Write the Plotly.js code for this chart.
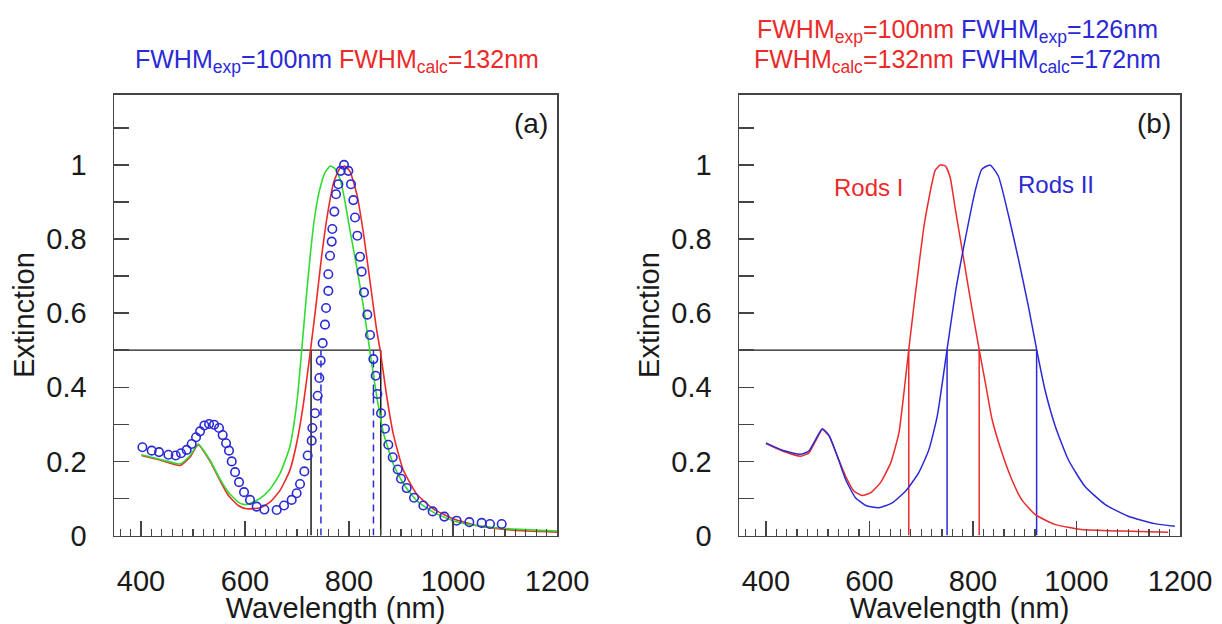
<!DOCTYPE html>
<html>
<head>
<meta charset="utf-8">
<script src="https://cdn.plot.ly/plotly-3.0.1.min.js"></script>
<style>html,body{margin:0;padding:0;background:#fff;}#chart{width:1222px;height:624px;}</style>
</head>
<body>
<div id="chart"></div>
<script>
// ---------- Panel (a) data ----------
const expWlA = [402.6,420.5,434.6,452.6,466.7,476.9,487.8,497.4,505.8,513.5,521.8,530.8,540.4,550.0,557.0,563.5,569.2,574.4,580.8,588.5,598.1,609.6,622.4,637.2,660.9,675.0,689.7,699.3,705.8,714.1,720.5,728.2,729.5,734.6,739.7,742.9,745.5,749.3,753.8,755.8,760.2,760.2,763.4,766.7,767.9,771.8,775.0,779.5,784.0,790.4,798.7,803.8,808.3,811.5,816.0,821.1,824.3,828.8,835.2,840.4,846.8,851.3,854.5,861.5,869.2,875.6,884.0,893.6,900.0,910.9,925.0,942.9,960.9,983.3,1007.0,1031.4,1055.1,1071.1,1093.6];
const expExtA = [0.238,0.229,0.225,0.218,0.216,0.222,0.231,0.247,0.265,0.281,0.297,0.301,0.299,0.290,0.271,0.249,0.229,0.200,0.171,0.144,0.117,0.096,0.078,0.070,0.069,0.081,0.096,0.114,0.139,0.173,0.216,0.256,0.290,0.330,0.377,0.425,0.472,0.519,0.569,0.614,0.660,0.705,0.755,0.793,0.827,0.874,0.921,0.948,0.984,1.000,0.984,0.948,0.905,0.858,0.809,0.752,0.712,0.656,0.596,0.541,0.476,0.431,0.382,0.330,0.288,0.245,0.211,0.178,0.153,0.128,0.102,0.081,0.065,0.051,0.040,0.036,0.034,0.031,0.031];

const calcWlA = [401,436,475,494,510,532,552,568,587,603,629,648,667,686,699,712,725,736,747,759,771,782,792,802,815,828,840,852,861,872,885,904,930,962,1000,1045,1110,1200];
const calcExtA = [0.216,0.204,0.189,0.211,0.245,0.202,0.148,0.108,0.081,0.072,0.075,0.090,0.121,0.175,0.247,0.352,0.490,0.615,0.750,0.870,0.955,0.990,0.997,0.982,0.921,0.813,0.690,0.565,0.490,0.380,0.275,0.178,0.112,0.072,0.045,0.027,0.015,0.009];

const fitWlA = [401,436,475,494,510,532,552,568,587,596,609,629,648,667,686,694,701,709,717,725,733,743,754,764,773,783,792,802,815,828,840,853,866,885,905,930,962,1000,1045,1110,1200];
const fitExtA = [0.218,0.206,0.193,0.215,0.247,0.205,0.152,0.117,0.090,0.084,0.086,0.100,0.125,0.166,0.238,0.300,0.375,0.500,0.630,0.750,0.850,0.930,0.980,0.997,0.990,0.961,0.903,0.822,0.723,0.615,0.499,0.378,0.278,0.193,0.139,0.094,0.063,0.040,0.027,0.018,0.012];

const halfLevel = 0.5;
const fwhmCalcEdgesA = [727, 861];
const fwhmExpEdgesA = [746, 847];

// ---------- Panel (b) data ----------
const rodsIWl = [400,432,467,483,496,509,522,538,554,570,586,602,621,641,657,667,676,686,697,706,715,727,737,747,756,766,779,795,812,824,837,856,875,894,920,958,1010,1087,1177];
const rodsIExt = [0.248,0.228,0.214,0.223,0.255,0.286,0.268,0.214,0.160,0.120,0.108,0.115,0.142,0.196,0.277,0.390,0.502,0.620,0.745,0.840,0.910,0.985,1.000,0.997,0.966,0.880,0.772,0.637,0.502,0.412,0.313,0.223,0.151,0.097,0.057,0.030,0.016,0.012,0.009];

const rodsIIWl = [400,432,467,483,496,509,522,538,554,573,593,618,644,670,695,715,731,750,766,785,805,817,833,849,869,888,907,923,939,959,984,1016,1055,1100,1151,1190];
const rodsIIExt = [0.250,0.230,0.219,0.228,0.259,0.288,0.270,0.214,0.151,0.102,0.081,0.075,0.088,0.120,0.169,0.232,0.322,0.502,0.655,0.799,0.934,0.988,1.000,0.970,0.862,0.745,0.619,0.502,0.394,0.295,0.205,0.133,0.084,0.052,0.032,0.025];

const fwhmEdgesRodsI = [676, 812];
const fwhmEdgesRodsII = [750, 923];

const xTickVals = [400, 600, 800, 1000, 1200];
const yTickVals = [0, 0.2, 0.4, 0.6, 0.8, 1];
const yTickText = ['0', '0.2', '0.4', '0.6', '0.8', '1'];
const xRange = [348, 1200];
const yRange = [0, 1.19];

// ---------- helpers ----------
const RED = '#ec2a2a', GREEN = '#2fdc2f', BLUE = '#2a2ad6', BLACK = '#1a1a1a';
function verticals(edges) {
  const x = [], y = [];
  edges.forEach(e => { x.push(e, e, null); y.push(0, halfLevel, null); });
  return {x, y};
}
function vtrace(edges, color, dash, xa, ya) {
  const v = verticals(edges);
  return {x: v.x, y: v.y, mode: 'lines', line: {color, width: 1.5, dash: dash || 'solid'}, xaxis: xa, yaxis: ya, hoverinfo: 'skip', showlegend: false};
}
function htrace(rightEdge, xa, ya) {
  return {x: [xRange[0], rightEdge], y: [halfLevel, halfLevel], mode: 'lines', line: {color: BLACK, width: 1.3}, xaxis: xa, yaxis: ya, showlegend: false};
}

const traces = [
  htrace(Math.max(...fwhmCalcEdgesA), 'x', 'y'),
  vtrace(fwhmCalcEdgesA, BLACK, 'solid', 'x', 'y'),
  vtrace(fwhmExpEdgesA, BLUE, '7px,5px', 'x', 'y'),
  {x: calcWlA, y: calcExtA, mode: 'lines', line: {color: RED, width: 1.6, shape: 'spline', smoothing: 0.5}, xaxis: 'x', yaxis: 'y', showlegend: false},
  {x: fitWlA, y: fitExtA, mode: 'lines', line: {color: GREEN, width: 1.6, shape: 'spline', smoothing: 0.5}, xaxis: 'x', yaxis: 'y', showlegend: false},
  {x: expWlA, y: expExtA, mode: 'markers', marker: {symbol: 'circle-open', size: 8.5, color: BLUE, line: {width: 1.6, color: BLUE}}, xaxis: 'x', yaxis: 'y', showlegend: false},

  htrace(Math.max(...fwhmEdgesRodsII), 'x2', 'y2'),
  vtrace(fwhmEdgesRodsI, RED, 'solid', 'x2', 'y2'),
  vtrace(fwhmEdgesRodsII, BLUE, 'solid', 'x2', 'y2'),
  {x: rodsIWl, y: rodsIExt, mode: 'lines', line: {color: RED, width: 1.5, shape: 'spline', smoothing: 0.5}, xaxis: 'x2', yaxis: 'y2', showlegend: false},
  {x: rodsIIWl, y: rodsIIExt, mode: 'lines', line: {color: BLUE, width: 1.5, shape: 'spline', smoothing: 0.5}, xaxis: 'x2', yaxis: 'y2', showlegend: false}
];

const FONT = 'Liberation Sans, Arial, sans-serif';
function xAxis(domain, anchor) {
  return {
    domain, anchor, range: xRange, showline: true, mirror: true, linecolor: '#444', linewidth: 1.5,
    ticks: 'inside', ticklen: 15, tickwidth: 1.5, tickcolor: '#444',
    tickmode: 'array', tickvals: xTickVals,
    minor: {tickmode: 'linear', tick0: 0, dtick: 20, ticks: 'inside', ticklen: 7, tickwidth: 1.2, tickcolor: '#444'},
    showgrid: false, zeroline: false, ticklabelstandoff: 19,
    tickfont: {family: FONT, size: 29, color: BLACK},
    title: {text: 'Wavelength (nm)', font: {family: FONT, size: 29, color: BLACK}, standoff: 0}
  };
}
function yAxis(domain, anchor) {
  return {
    domain, anchor, range: yRange, showline: true, mirror: true, linecolor: '#444', linewidth: 1.5,
    ticks: 'inside', ticklen: 15, tickwidth: 1.5, tickcolor: '#444',
    tickmode: 'array', tickvals: yTickVals, ticktext: yTickText,
    minor: {tickmode: 'linear', tick0: 0, dtick: 0.1, ticks: 'inside', ticklen: 15, tickwidth: 1.5, tickcolor: '#444'},
    showgrid: false, zeroline: false, ticklabelstandoff: 20,
    tickfont: {family: FONT, size: 29, color: BLACK},
    title: {text: 'Extinction', font: {family: FONT, size: 29, color: BLACK}, standoff: 3}
  };
}
const yDom = [1 - 535.5/624, 1 - 94.5/624];
const layout = {
  width: 1222, height: 624, margin: {l: 0, r: 0, t: 0, b: 0},
  paper_bgcolor: '#fff', plot_bgcolor: '#fff', showlegend: false,
  font: {family: FONT},
  xaxis: xAxis([114/1222, 557/1222], 'y'),
  yaxis: yAxis(yDom, 'x'),
  xaxis2: xAxis([739/1222, 1180/1222], 'y2'),
  yaxis2: yAxis(yDom, 'x2'),
  annotations: [
    {xref: 'paper', yref: 'paper', x: 337/1222, y: 1 - 61/624, showarrow: false, xanchor: 'center', yanchor: 'middle',
     text: '<span style="color:' + BLUE + '">FWHM<sub>exp</sub>=100nm</span> <span style="color:' + RED + '">FWHM<sub>calc</sub>=132nm</span>',
     font: {family: FONT, size: 25}},
    {xref: 'paper', yref: 'paper', x: 957/1222, y: 1 - 31/624, showarrow: false, xanchor: 'center', yanchor: 'middle',
     text: '<span style="color:' + RED + '">FWHM<sub>exp</sub>=100nm</span> <span style="color:' + BLUE + '">FWHM<sub>exp</sub>=126nm</span>',
     font: {family: FONT, size: 25}},
    {xref: 'paper', yref: 'paper', x: 957/1222, y: 1 - 61/624, showarrow: false, xanchor: 'center', yanchor: 'middle',
     text: '<span style="color:' + RED + '">FWHM<sub>calc</sub>=132nm</span> <span style="color:' + BLUE + '">FWHM<sub>calc</sub>=172nm</span>',
     font: {family: FONT, size: 25}},
    {xref: 'x domain', yref: 'y domain', x: 0.985, y: 0.935, xanchor: 'right', yanchor: 'middle', showarrow: false,
     text: '(a)', font: {family: FONT, size: 28, color: BLACK}},
    {xref: 'x2 domain', yref: 'y2 domain', x: 0.985, y: 0.935, xanchor: 'right', yanchor: 'middle', showarrow: false,
     text: '(b)', font: {family: FONT, size: 28, color: BLACK}},
    {xref: 'x2', yref: 'y2', x: 599, y: 0.94, showarrow: false, text: 'Rods I', font: {family: FONT, size: 24, color: RED}},
    {xref: 'x2', yref: 'y2', x: 961, y: 0.948, showarrow: false, text: 'Rods II', font: {family: FONT, size: 24, color: BLUE}}
  ]
};
Plotly.newPlot('chart', traces, layout, {displayModeBar: false, staticPlot: true});
</script>
</body>
</html>
